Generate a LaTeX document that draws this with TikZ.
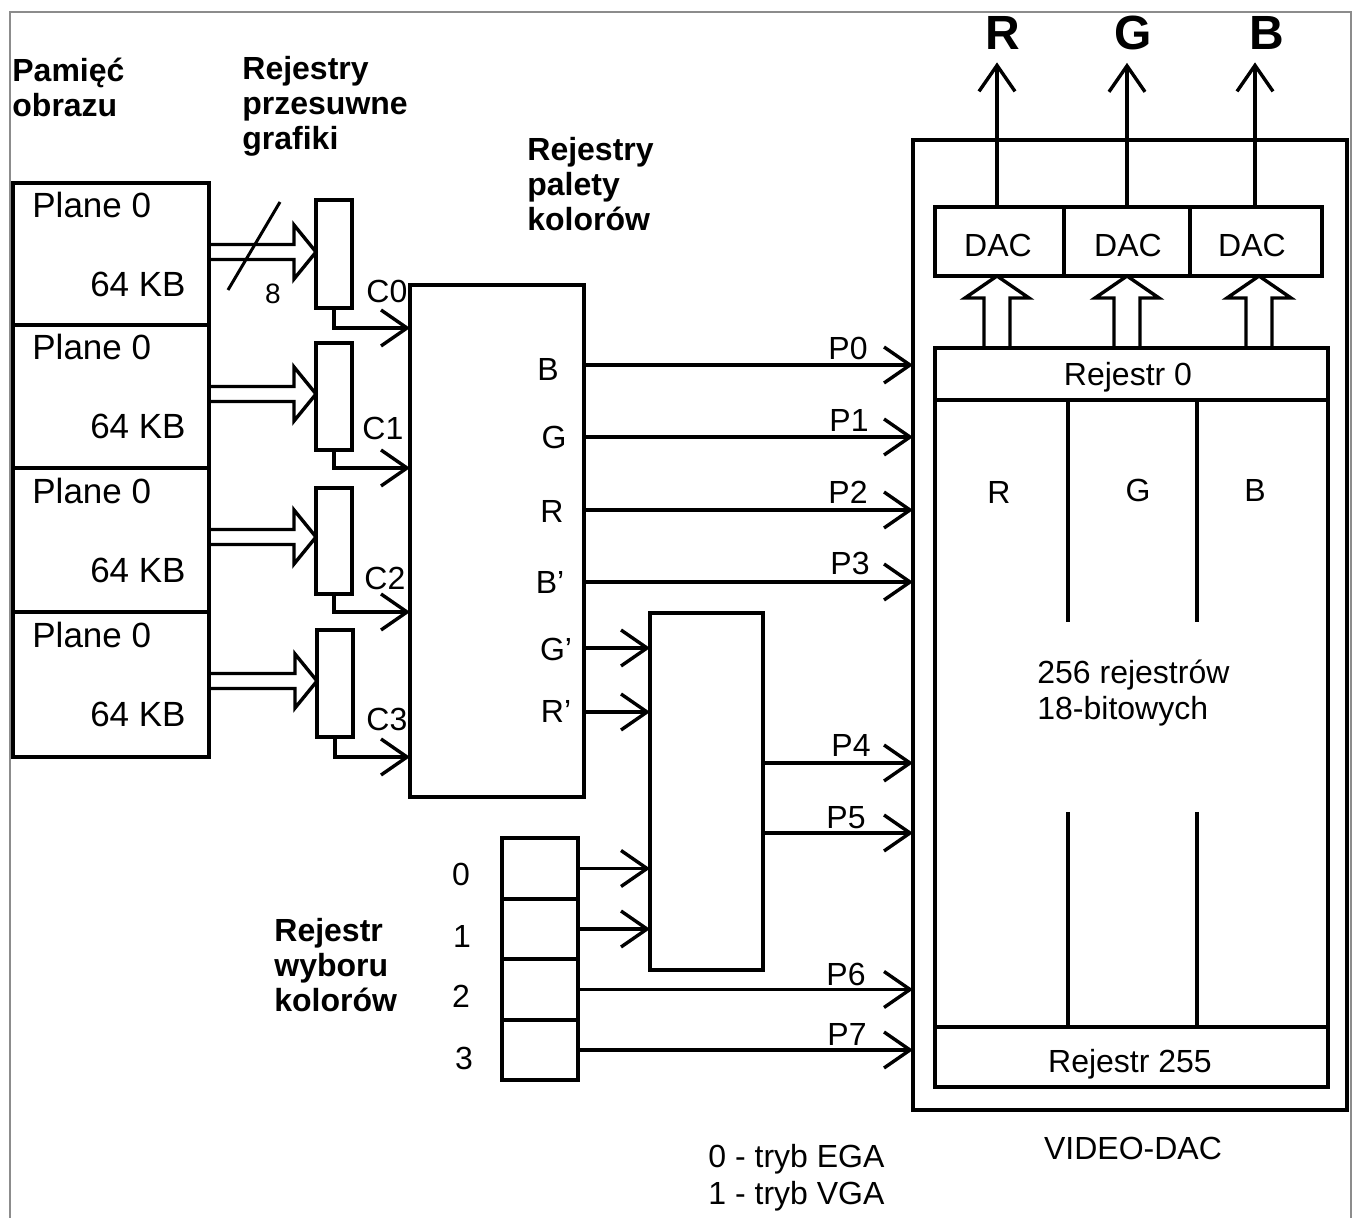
\documentclass[tikz,border=0pt]{standalone}
\usepackage{fontspec}
\setmainfont{Liberation Sans}
\usetikzlibrary{arrows.meta,calc}
\newcommand\mkbox[5]{%
  \pgfmathsetmacro\mkw{(#4-#2)*0.5}%
  \pgfmathsetmacro\mkh{(#5-#3)*0.5}%
  \node[box, anchor=north west, minimum width=\mkw pt, minimum height=\mkh pt] (#1) at (#2,#3) {};}
\newcommand\hollowH[3]{%
  \draw[hol] ($(#1.east |- #3)+(0,-7.5)$) -- ($(#2.west |- #3)+(-22,-7.5)$) -- ($(#2.west |- #3)+(-22,-27)$) -- (#2.west |- #3) -- ($(#2.west |- #3)+(-22,27)$) -- ($(#2.west |- #3)+(-22,7.5)$) -- ($(#1.east |- #3)+(0,7.5)$);}
\newcommand\hollowV[3]{%
  \draw[hol] ($(#3 |- #1.north)+(-13,0)$) -- ($(#3 |- #2.south)+(-13,22)$) -- ($(#3 |- #2.south)+(-32,22)$) -- (#3 |- #2.south) -- ($(#3 |- #2.south)+(32,22)$) -- ($(#3 |- #2.south)+(13,22)$) -- ($(#3 |- #1.north)+(13,0)$);}
\begin{document}
\begin{tikzpicture}[x=0.5pt,y=-0.5pt,
  box/.style={draw, line width=1.9pt, inner sep=0pt, outer sep=0pt},
  conn/.style={line width=1.7pt, -{Straight Barb[length=13pt,width=18pt]}},
  hol/.style={line width=1.7pt, line join=miter},
  lbl/.style={inner sep=0pt, font={\fontsize{16}{19}\selectfont}},
  plbl/.style={inner sep=0pt, font={\fontsize{17.5}{20}\selectfont}},
  ttl/.style={inner sep=0pt, align=left, font={\bfseries\fontsize{16}{17.5}\selectfont}},
  big/.style={inner sep=0pt, font={\bfseries\fontsize{24}{28}\selectfont}},
  frame/.style={draw=black!45, line width=0.7pt}]
\useasboundingbox (0,0) rectangle (1360,1218);
\draw[frame] (10,1218) -- (10,12) -- (1351,12) -- (1351,1218);

% titles (base anchor = last line)
\node[ttl, anchor=base west] (tPam) at (12,117) {Pamięć\\obrazu};
\node[ttl, anchor=base west] (tPrz) at (242,150) {Rejestry\\przesuwne\\grafiki};
\node[ttl, anchor=base west] (tPal) at (527,231) {Rejestry\\palety\\kolorów};
\node[ttl, anchor=base west] (tWyb) at (274,1011) {Rejestr\\wyboru\\kolorów};

% image memory planes
\mkbox{p1}{13}{183}{209}{325}
\mkbox{p2}{13}{325}{209}{468}
\mkbox{p3}{13}{468}{209}{612}
\mkbox{p4}{13}{612}{209}{757}
\node[plbl, anchor=base west] (pl1) at (32,218) {Plane 0};
\node[plbl, anchor=base east] (kb1) at (186,297) {64 KB};
\node[plbl, anchor=base west] (pl2) at (32,360) {Plane 0};
\node[plbl, anchor=base east] (kb2) at (186,439) {64 KB};
\node[plbl, anchor=base west] (pl3) at (32,504) {Plane 0};
\node[plbl, anchor=base east] (kb3) at (186,583) {64 KB};
\node[plbl, anchor=base west] (pl4) at (32,648) {Plane 0};
\node[plbl, anchor=base east] (kb4) at (186,727) {64 KB};

% shift registers
\mkbox{s1}{316}{200}{352}{308}
\mkbox{s2}{316}{343}{352}{450}
\mkbox{s3}{316}{488}{352}{594}
\mkbox{s4}{317}{630}{353}{737}
\coordinate (h1) at (0,252);
\coordinate (h2) at (0,394);
\coordinate (h3) at (0,537);
\coordinate (h4) at (0,681);
\hollowH{p1}{s1}{h1}
\hollowH{p2}{s2}{h2}
\hollowH{p3}{s3}{h3}
\hollowH{p4}{s4}{h4}
\draw[line width=1.5pt] (228,290) -- (280,202);
\node[inner sep=0pt, font={\fontsize{14}{16}\selectfont}] (n8) at (273,294) {8};

% palette registers
\mkbox{pal}{410}{285}{584}{797}
\coordinate (c1) at (0,328);
\coordinate (c2) at (0,468);
\coordinate (c3) at (0,612);
\coordinate (c4) at (0,757);
\draw[conn] (s1.south) |- (pal.west |- c1);
\draw[conn] (s2.south) |- (pal.west |- c2);
\draw[conn] (s3.south) |- (pal.west |- c3);
\draw[conn] (s4.south) |- (pal.west |- c4);
\node[lbl, anchor=base west] (lc0) at (366,303) {C0};
\node[lbl, anchor=base west] (lc1) at (362,440) {C1};
\node[lbl, anchor=base west] (lc2) at (364,590) {C2};
\node[lbl, anchor=base west] (lc3) at (366,731) {C3};
\node[lbl, anchor=base] (qB) at (548,381) {B};
\node[lbl, anchor=base] (qG) at (554,449) {G};
\node[lbl, anchor=base] (qR) at (552,523) {R};
\node[lbl, anchor=base] (qB2) at (550,594) {B’};
\node[lbl, anchor=base] (qG2) at (556,661) {G’};
\node[lbl, anchor=base] (qR2) at (556,723) {R’};

% multiplexer and colour select register
\mkbox{mux}{650}{613}{763}{970}
\mkbox{sel0}{502}{838}{578}{899}
\mkbox{sel1}{502}{899}{578}{959}
\mkbox{sel2}{502}{959}{578}{1020}
\mkbox{sel3}{502}{1020}{578}{1080}
\node[lbl, anchor=base] (d0) at (461,885) {0};
\node[lbl, anchor=base] (d1) at (462,947) {1};
\node[lbl, anchor=base] (d2) at (461,1007) {2};
\node[lbl, anchor=base] (d3) at (464,1069) {3};
\coordinate (yg) at (0,648);
\coordinate (yr) at (0,712);
\draw[conn] (pal.east |- yg) -- (mux.west |- yg);
\draw[conn] (pal.east |- yr) -- (mux.west |- yr);
\draw[conn] (sel0.east) -- (mux.west |- sel0.east);
\draw[conn] (sel1.east) -- (mux.west |- sel1.east);

% VIDEO-DAC
\mkbox{dacbox}{913}{140}{1347}{1110}
\mkbox{dac1}{935}{207}{1064}{276}
\mkbox{dac2}{1064}{207}{1190}{276}
\mkbox{dac3}{1190}{207}{1322}{276}
\node[lbl, anchor=base] (td1) at (998,257) {DAC};
\node[lbl, anchor=base] (td2) at (1128,257) {DAC};
\node[lbl, anchor=base] (td3) at (1252,257) {DAC};
\mkbox{regs}{935}{348}{1328}{1087}
\mkbox{r0}{935}{348}{1328}{400}
\mkbox{r255}{935}{1027}{1328}{1087}
\node[lbl, anchor=base] (tr0) at (1128,386) {Rejestr 0};
\node[lbl, anchor=base] (tr255) at (1130,1072) {Rejestr 255};
\draw[line width=1.7pt] (1068,400) -- (1068,622) (1197,400) -- (1197,622);
\draw[line width=1.7pt] (1068,812) -- (1068,1027) (1197,812) -- (1197,1027);
\node[lbl, anchor=base] (cr) at (999,504) {R};
\node[lbl, anchor=base] (cg) at (1138,502) {G};
\node[lbl, anchor=base] (cb) at (1255,502) {B};
\node[inner sep=0pt, align=left, anchor=base west, font={\fontsize{16}{18}\selectfont}] (t256) at (1037,720) {256 rejestrów\\18-bitowych};
\coordinate (xa) at (997,0);
\coordinate (xb) at (1127,0);
\coordinate (xc) at (1259,0);
\coordinate (xd) at (1255,0);
\hollowV{r0}{dac1}{xa}
\hollowV{r0}{dac2}{xb}
\hollowV{r0}{dac3}{xc}
\node[big, anchor=base] (oR) at (1003,50) {R};
\node[big, anchor=base] (oG) at (1133,50) {G};
\node[big, anchor=base] (oB) at (1267,50) {B};
\draw[conn, shorten >=6pt] (xa |- dac1.north) -- (xa |- oR.south);
\draw[conn, shorten >=6pt] (xb |- dac2.north) -- (xb |- oG.south);
\draw[conn, shorten >=6pt] (xd |- dac3.north) -- (xd |- oB.south);

% palette outputs P0-P7
\coordinate (y0) at (0,365);
\coordinate (y1) at (0,437);
\coordinate (y2) at (0,510);
\coordinate (y3) at (0,582);
\coordinate (y4) at (0,763);
\coordinate (y5) at (0,833);
\draw[conn] (pal.east |- y0) -- (dacbox.west |- y0);
\draw[conn] (pal.east |- y1) -- (dacbox.west |- y1);
\draw[conn] (pal.east |- y2) -- (dacbox.west |- y2);
\draw[conn] (pal.east |- y3) -- (dacbox.west |- y3);
\draw[conn] (mux.east |- y4) -- (dacbox.west |- y4);
\draw[conn] (mux.east |- y5) -- (dacbox.west |- y5);
\draw[conn] (sel2.east) -- (dacbox.west |- sel2.east);
\draw[conn] (sel3.east) -- (dacbox.west |- sel3.east);
\node[lbl, anchor=base east] (lp0) at (868,360) {P0};
\node[lbl, anchor=base east] (lp1) at (869,432) {P1};
\node[lbl, anchor=base east] (lp2) at (868,504) {P2};
\node[lbl, anchor=base east] (lp3) at (870,575) {P3};
\node[lbl, anchor=base east] (lp4) at (871,757) {P4};
\node[lbl, anchor=base east] (lp5) at (866,828) {P5};
\node[lbl, anchor=base east] (lp6) at (866,985) {P6};
\node[lbl, anchor=base east] (lp7) at (867,1045) {P7};

% bottom texts
\node[lbl, anchor=base] (tvd) at (1133,1159) {VIDEO-DAC};
\node[inner sep=0pt, align=left, anchor=base west, font={\fontsize{16}{18.5}\selectfont}] (tmode) at (708,1204) {0 - tryb EGA\\1 - tryb VGA};
\end{tikzpicture}
\end{document}
